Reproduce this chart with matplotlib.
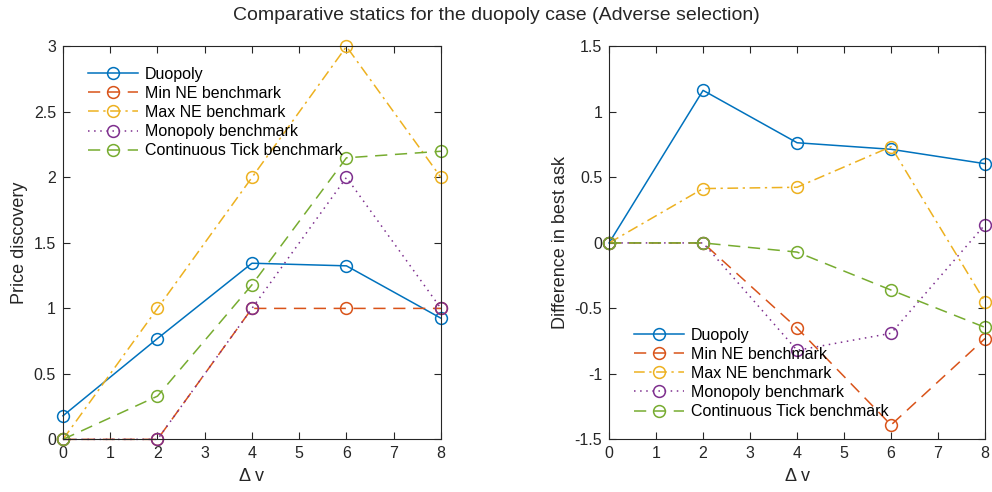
import numpy as np
import matplotlib as mpl
import matplotlib.pyplot as plt

mpl.rcParams['font.family'] = ['Liberation Sans', 'DejaVu Sans']

dv = [0, 2, 4, 6, 8]
labels = ['Duopoly', 'Min NE benchmark', 'Max NE benchmark',
          'Monopoly benchmark', 'Continuous Tick benchmark']

# Price discovery (left panel)
pd_duopoly = [0.18, 0.77, 1.345, 1.325, 0.925]
pd_min_ne = [0, 0, 1, 1, 1]
pd_max_ne = [0, 1, 2, 3, 2]
pd_monopoly = [0, 0, 1, 2, 1]
pd_cont_tick = [0, 0.33, 1.18, 2.15, 2.2]

# Difference in best ask (right panel)
ask_duopoly = [0, 1.165, 0.765, 0.715, 0.605]
ask_min_ne = [0, 0, -0.65, -1.39, -0.73]
ask_max_ne = [0, 0.415, 0.425, 0.735, -0.45]
ask_monopoly = [0, 0, -0.82, -0.69, 0.14]
ask_cont_tick = [0, 0, -0.07, -0.36, -0.645]

colors = ['#0072BD', '#D95319', '#EDB120', '#7E2F8E', '#77AC30']
styles = ['-', (0, (8, 5)), (0, (7, 3, 1.5, 3)), (0, (1, 3)), (0, (8, 5))]

fig = plt.figure(figsize=(9.92, 4.92), dpi=100)
ax1 = fig.add_axes([0.0635, 0.107, 0.381, 0.7985])
ax2 = fig.add_axes([0.614, 0.107, 0.379, 0.7985])


def draw(ax, series, ylim, yticks, ylabel, legend_loc, legend_anchor):
    for vals, c, ls, lab in zip(series, colors, styles, labels):
        ax.plot(dv, vals, color=c, linestyle=ls, linewidth=1.1, marker='o',
                markersize=8.5, markerfacecolor='none', markeredgewidth=1.1,
                label=lab, clip_on=False)
    ax.set_xlim(0, 8)
    ax.set_ylim(*ylim)
    ax.set_xticks(range(0, 9))
    ax.set_yticks(yticks)
    ax.set_yticklabels(['{:g}'.format(t) for t in yticks])
    ax.tick_params(direction='in', top=True, right=True, labelsize=11.5,
                   colors='#262626', length=5, width=0.8, pad=5)
    for s in ax.spines.values():
        s.set_color('#262626')
        s.set_linewidth(0.8)
    ax.set_xlabel('Δ v', fontsize=13, color='#262626', labelpad=5)
    ax.set_ylabel(ylabel, fontsize=13, color='#262626')
    ax.legend(loc=legend_loc, bbox_to_anchor=legend_anchor, frameon=False,
              fontsize=11.5, handlelength=3.1, labelspacing=0.26,
              handletextpad=0.45, borderaxespad=0)


draw(ax1, [pd_duopoly, pd_min_ne, pd_max_ne, pd_monopoly, pd_cont_tick],
     (0, 3), [0, 0.5, 1, 1.5, 2, 2.5, 3], 'Price discovery',
     'upper left', (0.05, 0.965))
draw(ax2, [ask_duopoly, ask_min_ne, ask_max_ne, ask_monopoly, ask_cont_tick],
     (-1.5, 1.5), [-1.5, -1, -0.5, 0, 0.5, 1, 1.5], 'Difference in best ask',
     'lower left', (0.05, 0.035))

fig.suptitle('Comparative statics for the duopoly case (Adverse selection)',
             fontsize=14, y=0.985, color='#262626')

fig.savefig('out.png', dpi=100)
